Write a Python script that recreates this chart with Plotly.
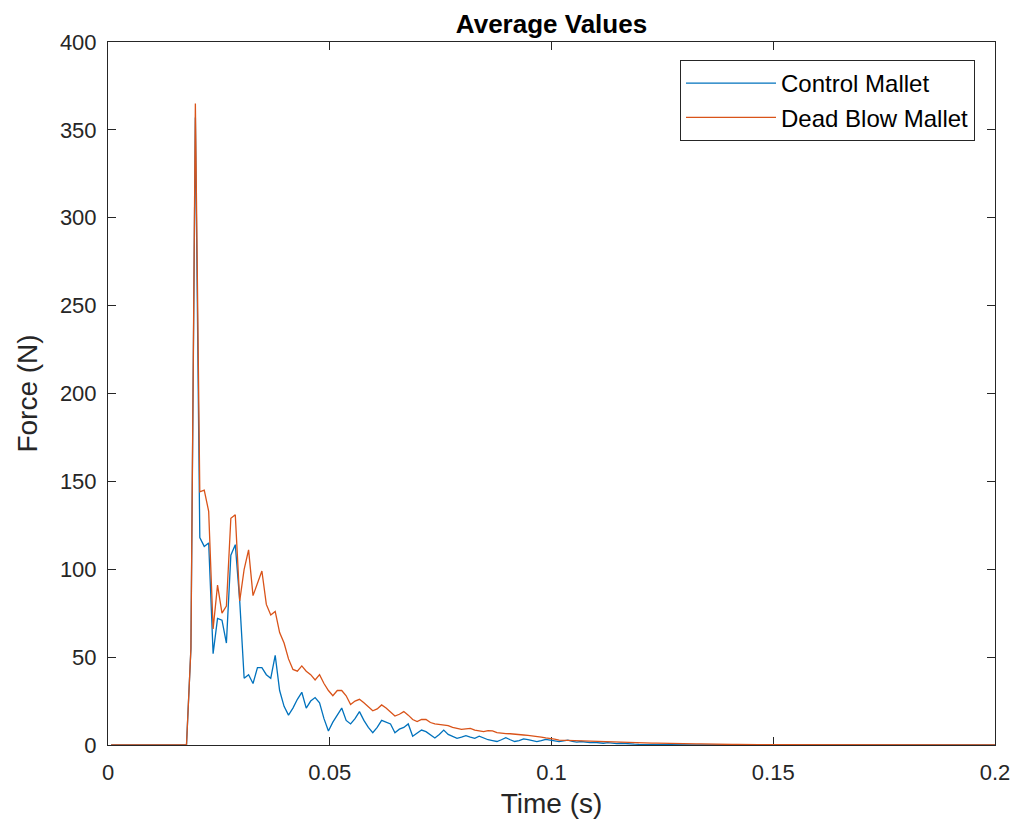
import numpy as np
import plotly.graph_objects as go

# Sample times (s): 1 ms sampling grid
time = np.round(0.0007 + 0.001 * np.arange(201), 4)

control_mallet = [
    0, 0, 0, 0, 0, 0, 0, 0, 0, 0,
    0, 0, 0, 0, 0, 0, 0, 0, 55, 357,
    118, 113, 115, 52, 72, 71, 58, 108, 114, 82,
    38, 40, 35, 44, 44, 40, 38, 51, 31, 22,
    17, 21, 26, 30, 21, 25, 27, 24, 15, 8,
    13, 17, 21, 14, 12, 15, 19, 14, 10, 7,
    10, 14, 13, 12, 7, 9, 10, 12, 5, 7,
    8.5, 7.6, 6, 4, 6, 8.5, 6, 5, 3.8, 4.5,
    5.3, 4.5, 3.8, 5, 4, 3, 2.5, 2, 3, 4.2,
    3, 2, 2.5, 3.5, 3, 2.3, 1.9, 2.5, 3.2, 2.8,
    2.2, 1.9, 2.4, 2.8, 2.0, 1.6, 2.0, 1.7, 1.3, 1.5,
    1.2, 1.0, 1.3, 0.9, 0.8, 1.0, 0.7, 0.6, 0.5, 0.4,
    0.3, 0.3, 0.3, 0.2, 0.2, 0.2, 0.2, 0.1, 0.1, 0.1,
    0.1, 0.1, 0.05, 0.05, 0.05, 0.05, 0.05, 0.05, 0.05, 0.05,
    0.05, 0.05, 0.05, 0.05, 0.05, 0.05, 0.05, 0.05, 0.05, 0.05,
    0.05, 0.05, 0.05, 0.05, 0.05, 0.05, 0.05, 0.05, 0.05, 0.05,
    0.05, 0.05, 0.05, 0.05, 0.05, 0.05, 0.05, 0.05, 0.05, 0.05,
    0.05, 0.05, 0.05, 0.05, 0.05, 0.05, 0.05, 0.05, 0.05, 0.05,
    0.05, 0.05, 0.05, 0.05, 0.05, 0.05, 0.05, 0.05, 0.05, 0.05,
    0.05, 0.05, 0.05, 0.05, 0.05, 0.05, 0.05, 0.05, 0.05, 0.05,
    0.05,
]

dead_blow_mallet = [
    0, 0, 0, 0, 0, 0, 0, 0, 0, 0,
    0, 0, 0, 0, 0, 0, 0, 0, 55, 365,
    144, 145, 133, 66, 91, 75, 79, 129, 131, 82,
    100, 111, 85, 92, 99, 80, 74, 76, 64, 58,
    49, 43, 42, 45, 42, 40, 37, 40, 35, 31,
    28, 31, 31, 28, 23, 25, 26, 24, 22, 19.5,
    20.5, 22.8, 21, 18.5, 16.5, 17.5, 19, 17, 14.5, 13.3,
    14.5, 14.5, 12.8, 12, 11.8, 11.5, 11, 10, 9.3, 8.9,
    9.2, 9.5, 8.5, 8, 7.6, 8.2, 8, 7, 6.6, 6.5,
    6.4, 6.3, 6.0, 5.7, 5.5, 5.3, 5.0, 4.5, 4.0, 3.8,
    3.3, 2.8, 2.7, 2.6, 2.8, 2.5, 2.3, 2.4, 2.1, 2.0,
    2.1, 1.9, 1.8, 1.7, 1.7, 1.6, 1.5, 1.5, 1.4, 1.3,
    1.3, 1.2, 1.1, 1.1, 1.0, 1.0, 0.9, 0.9, 0.8, 0.8,
    0.7, 0.7, 0.6, 0.6, 0.5, 0.5, 0.5, 0.4, 0.4, 0.3,
    0.3, 0.3, 0.2, 0.2, 0.2, 0.2, 0.2, 0.2, 0.2, 0.2,
    0.2, 0.2, 0.2, 0.2, 0.2, 0.2, 0.2, 0.2, 0.2, 0.2,
    0.2, 0.2, 0.1, 0.1, 0.1, 0.1, 0.1, 0.1, 0.1, 0.1,
    0.1, 0.1, 0.1, 0.1, 0.1, 0.1, 0.1, 0.1, 0.1, 0.1,
    0.1, 0.1, 0.1, 0.1, 0.1, 0.1, 0.1, 0.1, 0.1, 0.1,
    0.1, 0.1, 0.1, 0.1, 0.1, 0.1, 0.1, 0.1, 0.1, 0.1,
    0.1,
]

x_tick_vals = [0, 0.05, 0.1, 0.15, 0.2]
x_tick_text = ["0", "0.05", "0.1", "0.15", "0.2"]
y_tick_vals = [0, 50, 100, 150, 200, 250, 300, 350, 400]
y_tick_text = ["0", "50", "100", "150", "200", "250", "300", "350", "400"]

AX = "#262626"
FONT = "Liberation Sans, Arial, Helvetica, sans-serif"

# page body has an 8px margin, so the figure is sized to fit the 1019x830 window
W, H = 1011, 822

fig = go.Figure()
fig.add_trace(go.Scatter(x=time, y=control_mallet, mode="lines", name="Control Mallet",
                         line=dict(color="#0072BD", width=1.3)))
fig.add_trace(go.Scatter(x=time, y=dead_blow_mallet, mode="lines", name="Dead Blow Mallet",
                         line=dict(color="#D95319", width=1.3)))

axis_common = dict(
    showgrid=False, zeroline=False, showline=True, linecolor=AX, linewidth=1,
    mirror="ticks", ticks="inside", ticklen=8, tickwidth=1, tickcolor=AX,
    tickfont=dict(size=22, color=AX, family=FONT), layer="below traces",
)

fig.update_layout(
    width=W, height=H,
    paper_bgcolor="white", plot_bgcolor="white",
    margin=dict(l=100, r=24, t=34, b=85, autoexpand=False),
    font=dict(family=FONT, color=AX),
    title=dict(text="<b>Average Values</b>", x=0.5, xref="paper", xanchor="center",
               y=1 - 16 / H, yref="container", yanchor="middle",
               font=dict(size=26, color="#000000", family=FONT)),
    xaxis=dict(range=[0, 0.2], tickvals=x_tick_vals, ticktext=x_tick_text,
               title=dict(text="Time (s)", font=dict(size=28, color=AX), standoff=8),
               ticklabelstandoff=8, automargin=False, **axis_common),
    yaxis=dict(range=[0, 400], tickvals=y_tick_vals, ticktext=y_tick_text,
               title=dict(text="Force (N)", font=dict(size=28, color=AX), standoff=14),
               ticklabelstandoff=6, automargin=False, **axis_common),
    legend=dict(x=(975 - 108) / 887, xanchor="right", y=(745 - 60) / 703, yanchor="top",
                bgcolor="white", bordercolor=AX, borderwidth=1,
                font=dict(size=24, color="#000000", family=FONT),
                itemwidth=90, tracegroupgap=0),
    showlegend=True,
)

fig.write_html("out.html")
